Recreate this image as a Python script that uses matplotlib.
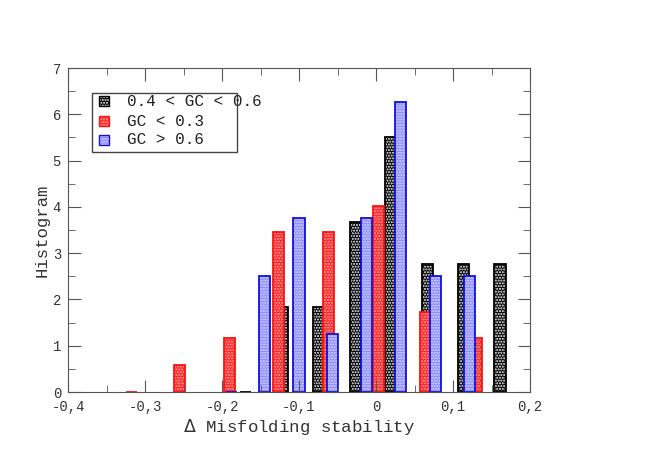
import matplotlib
matplotlib.use('Agg')
import matplotlib.pyplot as plt
from matplotlib.patches import Rectangle
from matplotlib.ticker import MultipleLocator, FuncFormatter

plt.rc('font', family='Liberation Mono', size=10)
plt.rc('hatch', linewidth=1.0)

# histogram bins (centre, density) for each GC class
mid_x = [-0.169, -0.122, -0.075, -0.027, 0.019, 0.067, 0.114, 0.161]
mid_y = [0.0, 1.84, 1.84, 3.68, 5.52, 2.76, 2.76, 2.76]
low_x = [-0.318, -0.255, -0.190, -0.127, -0.062, 0.003, 0.065, 0.130]
low_y = [0.0, 0.58, 1.16, 3.45, 3.45, 4.02, 1.73, 1.16]
high_x = [-0.188, -0.145, -0.100, -0.056, -0.012, 0.032, 0.077, 0.121]
high_y = [0.0, 2.50, 3.76, 1.25, 3.76, 6.26, 2.50, 2.50]

labels = ['0.4 < GC < 0.6', 'GC < 0.3', 'GC > 0.6']
# (fill, dots, outline)
styles = [('black', 'white', 'black'),
          ('#ff2020', '#ffb0b0', '#ff1010'),
          ('#8a8aff', '#e0e0ff', '#1010e0')]
width = 0.0145

fig = plt.figure(figsize=(6.53, 4.62), dpi=100)
ax = fig.add_axes([68 / 653, 1 - 392 / 462, 462 / 653, 324 / 462])

for (xs, ys), (fc, dc, ec) in zip([(mid_x, mid_y), (low_x, low_y), (high_x, high_y)], styles):
    ax.bar(xs, ys, width=width, color=fc, edgecolor=dc, hatch='......', linewidth=0)
    ax.bar(xs, ys, width=width, fill=False, edgecolor=ec, linewidth=1.3)

ax.set_xlim(-0.4, 0.2)
ax.set_ylim(0, 7)
ax.xaxis.set_major_locator(MultipleLocator(0.1))
ax.xaxis.set_minor_locator(MultipleLocator(0.05))
ax.yaxis.set_major_locator(MultipleLocator(1))
ax.yaxis.set_minor_locator(MultipleLocator(0.5))


def comma(v, pos):
    s = '{:g}'.format(round(v, 3))
    return '0' if s in ('0', '-0') else s.replace('.', ',')


ax.xaxis.set_major_formatter(FuncFormatter(comma))
ax.tick_params(which='both', direction='in', top=True, right=True,
               color='#555555', labelcolor='#333333')
ax.tick_params(which='major', length=9)
ax.tick_params(which='minor', length=5)
ax.tick_params(axis='x', which='major', pad=6)
ax.tick_params(axis='y', which='major', pad=5)
for s in ax.spines.values():
    s.set_color('#555555')

ax.set_xlabel(r'$\Delta$ Misfolding stability', fontsize=12.5, color='#333333', labelpad=2)
ax.set_ylabel('Histogram', fontsize=12.5, color='#333333', labelpad=2)

# legend drawn by hand so the first entry can run past the frame
ax.add_patch(Rectangle((0.052, 0.741), 0.314, 0.182, transform=ax.transAxes,
                       fill=False, edgecolor='#444444', linewidth=1.0, zorder=5))
rows = [0.898, 0.836, 0.778]
for lab, (fc, dc, ec), yy in zip(labels, styles, rows):
    ax.add_patch(Rectangle((0.067, yy - 0.016), 0.021, 0.032, transform=ax.transAxes,
                           facecolor=fc, edgecolor=dc, hatch='......', linewidth=0, zorder=6))
    ax.add_patch(Rectangle((0.067, yy - 0.016), 0.021, 0.032, transform=ax.transAxes,
                           fill=False, edgecolor=ec, linewidth=1.0, zorder=6))
    ax.text(0.128, yy, lab, transform=ax.transAxes, fontsize=11.5, color='#222222',
            va='center', ha='left', zorder=6)

fig.savefig('out.png', dpi=100)
